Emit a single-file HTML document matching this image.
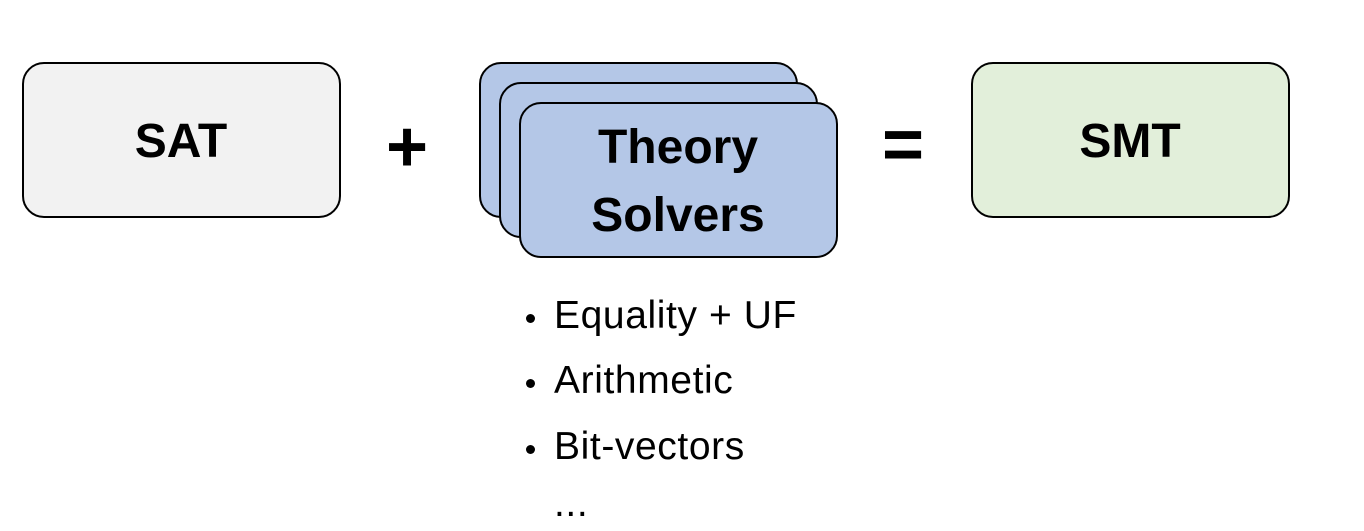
<!DOCTYPE html>
<html><head><style>
body{margin:0;width:1364px;height:531px;background:#fff;position:relative;overflow:hidden;font-family:"Liberation Sans",sans-serif;}
.b{position:absolute;width:315px;height:152px;border:2px solid #000;border-radius:22px;box-sizing:content-box;}
.t{position:absolute;font-weight:bold;font-size:48px;text-align:center;color:#000;}
.l{position:absolute;left:554px;font-size:39px;letter-spacing:0.6px;color:#000;}
.d{position:absolute;left:526px;width:9px;height:9px;border-radius:50%;background:#000;}
</style></head><body>
<div class="b" style="left:22px;top:62px;background:#f2f2f2"></div>
<div class="t" style="left:22px;top:114px;width:318px">SAT</div>
<div class="t" style="left:368px;top:106px;width:78px;font-size:72px">+</div>
<div class="b" style="left:479px;top:62px;background:#b4c7e7"></div>
<div class="b" style="left:499px;top:82px;background:#b4c7e7"></div>
<div class="b" style="left:519px;top:102px;background:#b4c7e7"></div>
<div class="t" style="left:519px;top:114px;width:318px;line-height:68px">Theory<br>Solvers</div>
<div class="t" style="left:864px;top:104px;width:78px;font-size:72px">=</div>
<div class="b" style="left:971px;top:62px;background:#e2efda"></div>
<div class="t" style="left:971px;top:114px;width:318px">SMT</div>
<div class="d" style="top:314px"></div><div class="l" style="top:294px">Equality + UF</div>
<div class="d" style="top:379px"></div><div class="l" style="top:359px">Arithmetic</div>
<div class="d" style="top:445px"></div><div class="l" style="top:425px">Bit-vectors</div>
<div class="l" style="top:482px">...</div>
</body></html>
